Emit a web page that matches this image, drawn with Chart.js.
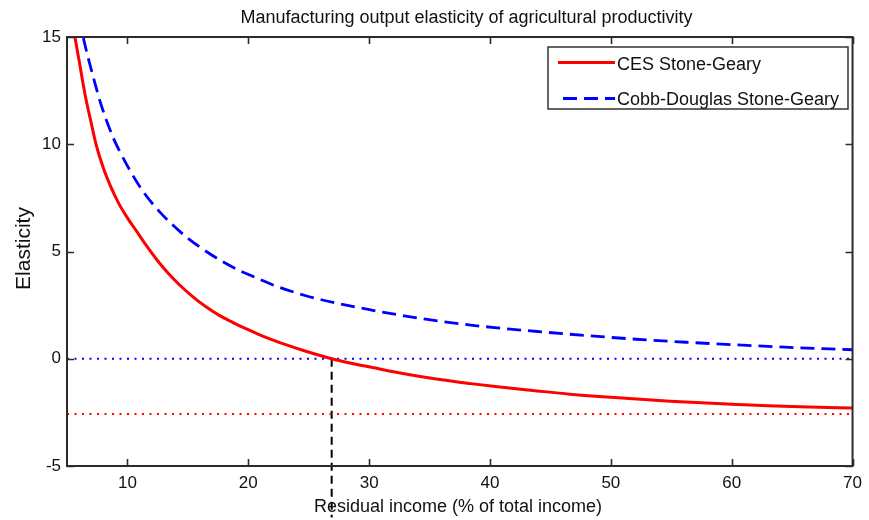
<!DOCTYPE html>
<html>
<head>
<meta charset="utf-8">
<title>Manufacturing output elasticity of agricultural productivity</title>
<script src="https://cdn.jsdelivr.net/npm/chart.js@4.4.1/dist/chart.umd.min.js"></script>
<style>
  html, body { margin: 0; padding: 0; background: #ffffff; }
  canvas { display: block; }
</style>
</head>
<body>
<canvas id="chart" width="869" height="520"></canvas>
<script>
// Residual income (% of total income) and elasticity, CES Stone-Geary
const incomeCES = [5.0, 5.66, 6.0, 6.5, 7.0, 7.4, 8.0, 8.6, 9.3, 10.0, 10.75, 11.5, 12.4, 13.3, 14.3, 15.4, 16.5, 17.6, 18.7, 19.8, 20.9, 22.0, 23.4, 24.7, 26.9, 28.5, 30.2, 32.9, 35.7, 38.4, 41.0, 43.9, 46.6, 50.0, 54.9, 60.0, 63.0, 66.5, 70.0];
const elasticityCES = [17.5, 15.0, 13.9, 12.3, 11.0, 10.0, 8.9, 8.05, 7.22, 6.57, 5.95, 5.33, 4.64, 4.03, 3.45, 2.9, 2.42, 2.02, 1.7, 1.4, 1.13, 0.88, 0.6, 0.36, 0.0, -0.21, -0.4, -0.7, -0.96, -1.16, -1.33, -1.5, -1.65, -1.8, -1.98, -2.12, -2.19, -2.25, -2.3];

// Residual income and elasticity, Cobb-Douglas Stone-Geary
const incomeCD = [5.0, 6.4, 7.19, 7.88, 8.83, 9.38, 10.2, 11.29, 12.67, 14.31, 15.95, 17.6, 19.24, 20.88, 22.0, 24.7, 27.5, 30.2, 32.9, 35.7, 38.4, 40.6, 43.9, 48.0, 52.1, 56.2, 60.3, 64.4, 70.0];
const elasticityCD = [18.8, 14.85, 13.1, 11.74, 10.3, 9.65, 8.79, 7.8, 6.85, 5.95, 5.22, 4.62, 4.12, 3.72, 3.45, 2.95, 2.57, 2.27, 2.0, 1.76, 1.57, 1.44, 1.27, 1.08, 0.91, 0.77, 0.65, 0.54, 0.42];

// Reference levels
const zeroLevel = 0;
const cesLimit = -2.57;
const thresholdIncome = 26.9;
const thresholdBottom = -7.4;

// Axes
const xRange = [5, 70];
const yRange = [-5, 15];
const xTicks = [10, 20, 30, 40, 50, 60, 70];
const yTicks = [-5, 0, 5, 10, 15];

// Text
const titleText = 'Manufacturing output elasticity of agricultural productivity';
const xLabel = 'Residual income (% of total income)';
const yLabel = 'Elasticity';
const seriesLabels = ['CES Stone-Geary', 'Cobb-Douglas Stone-Geary'];

const FONT = '"Liberation Sans", Arial, Helvetica, sans-serif';
const AXIS_COLOR = '#2b2b2b';
const TEXT_COLOR = '#111111';

const toPoints = (xs, ys) => xs.map((x, i) => ({ x: x, y: ys[i] }));

// Boxed axes with inward ticks on all four sides, titles and legend
const framePlugin = {
  id: 'frame',
  afterDatasetsDraw(chart) {
    const { ctx, chartArea: a, scales } = chart;
    const xs = scales.x, ys = scales.y;
    const tick = 7;
    ctx.save();
    ctx.strokeStyle = AXIS_COLOR;
    ctx.lineWidth = 2;
    ctx.strokeRect(a.left, a.top, a.right - a.left, a.bottom - a.top);
    ctx.lineWidth = 1.6;
    ctx.beginPath();
    xs.ticks.forEach(t => {
      const px = Math.round(xs.getPixelForValue(t.value)) + 0.5;
      ctx.moveTo(px, a.bottom); ctx.lineTo(px, a.bottom - tick);
      ctx.moveTo(px, a.top); ctx.lineTo(px, a.top + tick);
    });
    ys.ticks.forEach(t => {
      const py = Math.round(ys.getPixelForValue(t.value)) + 0.5;
      ctx.moveTo(a.left, py); ctx.lineTo(a.left + tick, py);
      ctx.moveTo(a.right, py); ctx.lineTo(a.right - tick, py);
    });
    ctx.stroke();

    // Legend
    const lx = 548, ly = 47, lw = 300, lh = 62;
    ctx.fillStyle = '#ffffff';
    ctx.fillRect(lx, ly, lw, lh);
    ctx.strokeStyle = '#333333';
    ctx.lineWidth = 1.5;
    ctx.strokeRect(lx, ly, lw, lh);
    const rows = [62.5, 98.5];
    const baselines = [69.5, 105];
    [0, 1].forEach(i => {
      const ds = chart.data.datasets[i];
      ctx.save();
      ctx.strokeStyle = ds.borderColor;
      ctx.lineWidth = ds.borderWidth;
      ctx.setLineDash(ds.borderDash || []);
      ctx.beginPath();
      ctx.moveTo(i === 0 ? 558 : 563, rows[i]);
      ctx.lineTo(615, rows[i]);
      ctx.stroke();
      ctx.restore();
      ctx.fillStyle = TEXT_COLOR;
      ctx.font = '18px ' + FONT;
      ctx.textAlign = 'left';
      ctx.textBaseline = 'alphabetic';
      ctx.fillText(ds.label, 617, baselines[i]);
    });
    ctx.restore();
  },
  afterDraw(chart) {
    const { ctx } = chart;
    ctx.save();
    ctx.fillStyle = TEXT_COLOR;
    ctx.textBaseline = 'alphabetic';
    ctx.textAlign = 'center';
    ctx.font = '18px ' + FONT;
    ctx.fillText(titleText, 466.5, 22.5);
    ctx.fillText(xLabel, 458, 511.5);
    ctx.translate(29.5, 248.5);
    ctx.rotate(-Math.PI / 2);
    ctx.font = '21px ' + FONT;
    ctx.fillText(yLabel, 0, 0);
    ctx.restore();
  }
};

const fixedTicks = values => scale => { scale.ticks = values.map(v => ({ value: v })); };

new Chart(document.getElementById('chart'), {
  type: 'line',
  data: {
    datasets: [
      {
        label: seriesLabels[0],
        data: toPoints(incomeCES, elasticityCES),
        borderColor: '#ff0000',
        borderWidth: 3,
        pointRadius: 0,
        cubicInterpolationMode: 'monotone',
        clip: 0
      },
      {
        label: seriesLabels[1],
        data: toPoints(incomeCD, elasticityCD),
        borderColor: '#0000ff',
        borderWidth: 2.8,
        borderDash: [14, 7],
        pointRadius: 0,
        cubicInterpolationMode: 'monotone',
        clip: 0
      },
      {
        label: 'zero',
        data: [{ x: xRange[0], y: zeroLevel }, { x: xRange[1], y: zeroLevel }],
        borderColor: '#0000ff',
        borderWidth: 2,
        borderDash: [2, 5.5],
        pointRadius: 0,
        clip: 0
      },
      {
        label: 'limit',
        data: [{ x: xRange[0], y: cesLimit }, { x: xRange[1], y: cesLimit }],
        borderColor: '#ff0000',
        borderWidth: 2,
        borderDash: [2, 5.5],
        pointRadius: 0,
        clip: 0
      },
      {
        label: 'threshold',
        data: [{ x: thresholdIncome, y: zeroLevel }, { x: thresholdIncome, y: thresholdBottom }],
        borderColor: '#000000',
        borderWidth: 2,
        borderDash: [8, 5],
        pointRadius: 0,
        clip: false
      }
    ]
  },
  options: {
    responsive: false,
    animation: false,
    devicePixelRatio: 1,
    layout: { padding: { top: 37, right: 12, left: 0, bottom: 0 } },
    plugins: {
      legend: { display: false },
      title: { display: false },
      tooltip: { enabled: false }
    },
    scales: {
      x: {
        type: 'linear',
        min: xRange[0],
        max: xRange[1],
        afterBuildTicks: fixedTicks(xTicks),
        afterFit: s => { s.height = 54; },
        grid: { display: false, drawTicks: false },
        border: { display: false },
        ticks: {
          autoSkip: false,
          maxRotation: 0,
          padding: 7,
          color: TEXT_COLOR,
          font: { family: FONT, size: 17 }
        }
      },
      y: {
        type: 'linear',
        min: yRange[0],
        max: yRange[1],
        afterBuildTicks: fixedTicks(yTicks),
        afterFit: s => { s.width = 67; },
        grid: { display: false, drawTicks: false },
        border: { display: false },
        ticks: {
          padding: 6,
          color: TEXT_COLOR,
          font: { family: FONT, size: 17 }
        }
      }
    }
  },
  plugins: [framePlugin]
});
</script>
</body>
</html>
